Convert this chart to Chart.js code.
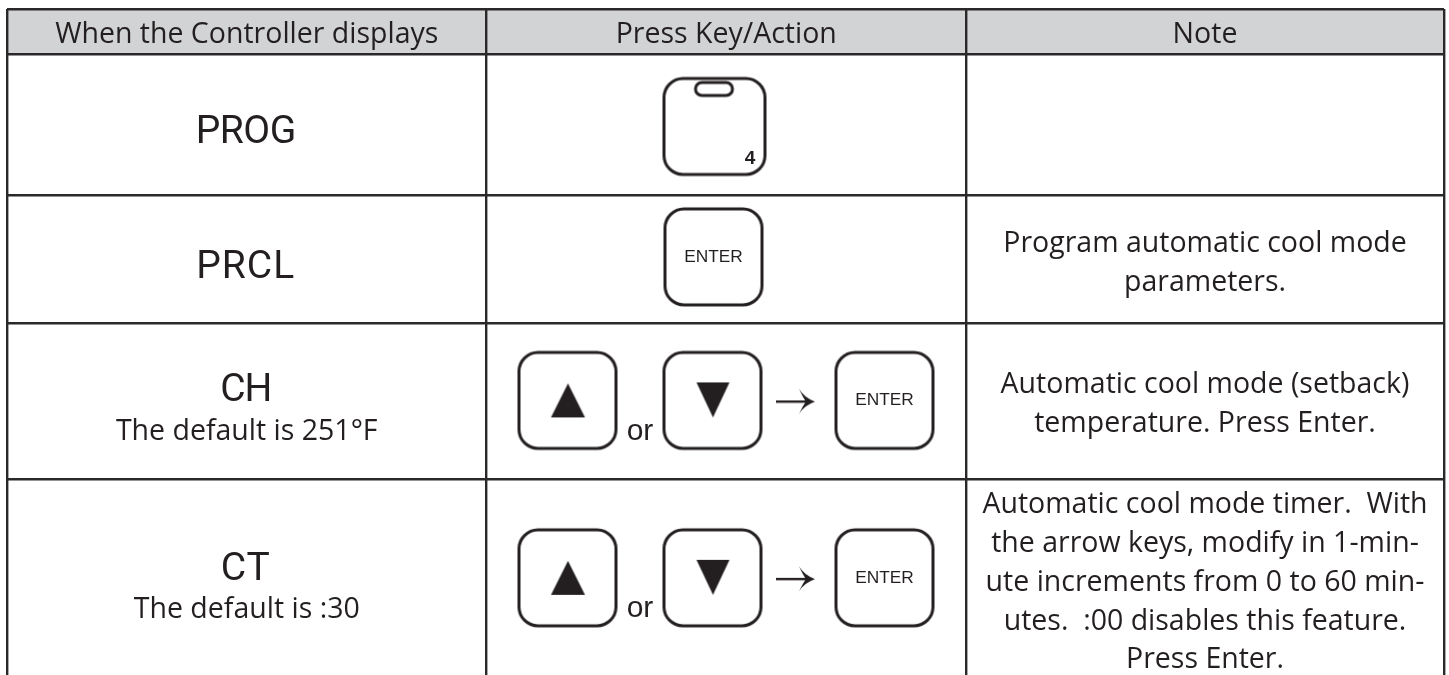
<!DOCTYPE html>
<html>
<head>
<meta charset="utf-8">
<title>Controller keys</title>
<script src="https://cdn.jsdelivr.net/npm/chart.js@4/dist/chart.umd.min.js"></script>
<style>
  html, body { margin: 0; padding: 0; background: #fff; overflow: hidden; }
  canvas { display: block; }
</style>
</head>
<body>
<canvas id="tabla" width="1449" height="675"></canvas>
<script>
  // Table content
  var headers = ['When the Controller displays', 'Press Key/Action', 'Note'];
  var displayCodes = ['PROG', 'PRCL', 'CH', 'CT'];
  var displayDefaults = ['', '', 'The default is 251°F', 'The default is :30'];
  var notes = [
    [],
    ['Program automatic cool mode', 'parameters.'],
    ['Automatic cool mode (setback)', 'temperature. Press Enter.'],
    ['Automatic cool mode timer.  With', 'the arrow keys, modify in 1-min-', 'ute increments from 0 to 60 min-', 'utes.  :00 disables this feature.', 'Press Enter.']
  ];
  var keyRows = [1, 2, 3, 3, 3, 3, 4, 4, 4, 4];
  var keyTypes = ['prog', 'enter', 'up', 'down', 'arrow', 'enter', 'up', 'down', 'arrow', 'enter'];
  var columnEdges = [7, 486.5, 966, 1444];
  var rowEdges = [9, 54, 195.5, 323.5, 479.5, 675];

  // Where each key sits, in table units
  var keyX = { prog: 714.5, single: 713.5, up: 567.5, down: 712.5, arrow: 796, enter: 884.5 };
  var keyY = [0, 126.5, 257, 400.5, 578];

  function keyIcon(type) {
    var c = document.createElement('canvas');
    c.width = 110; c.height = 104;
    var g = c.getContext('2d');
    var w = type === 'prog' ? 101 : 97;
    var h = 96;
    g.strokeStyle = '#231f20';
    g.fillStyle = '#231f20';
    g.lineWidth = 3;
    if (type === 'arrow') {
      g.fillRect(35, 52, 31, 2.4);
      g.beginPath();
      g.moveTo(74, 53.2);
      g.quadraticCurveTo(63, 49, 58, 40.5);
      g.quadraticCurveTo(62, 49, 65, 53.2);
      g.quadraticCurveTo(62, 57, 58, 65.5);
      g.quadraticCurveTo(63, 57, 74, 53.2);
      g.closePath();
      g.fill();
      return c;
    }
    g.beginPath();
    g.roundRect((110 - w) / 2, (104 - h) / 2, w, h, 19);
    g.stroke();
    if (type === 'prog') {
      g.beginPath();
      g.roundRect(36, 8, 37, 13, 6.5);
      g.stroke();
    }
    if (type === 'up') {
      g.beginPath();
      g.moveTo(55.5, 35); g.lineTo(72.5, 69); g.lineTo(38.5, 69);
      g.closePath(); g.fill();
    }
    if (type === 'down') {
      g.beginPath();
      g.moveTo(39, 34); g.lineTo(72, 34); g.lineTo(55.5, 69);
      g.closePath(); g.fill();
    }
    return c;
  }

  var icons = {};
  ['prog', 'enter', 'up', 'down', 'arrow'].forEach(function (t) { icons[t] = keyIcon(t); });

  var keyPoints = keyTypes.map(function (t, i) {
    var col = t === 'prog' ? keyX.prog : (keyRows[i] === 2 ? keyX.single : keyX[t]);
    return { x: col, y: keyY[keyRows[i]] };
  });

  function label(ctx, text, x, y, font, spacing) {
    ctx.font = font;
    ctx.letterSpacing = spacing || '0px';
    ctx.fillText(text, x, y);
  }

  var tablePlugin = {
    id: 'tablePlugin',
    beforeDraw: function (chart) {
      var ctx = chart.ctx, sx = chart.scales.x, sy = chart.scales.y;
      ctx.save();
      ctx.fillStyle = '#ffffff';
      ctx.fillRect(0, 0, chart.width, chart.height);
      ctx.fillStyle = '#d1d3d4';
      ctx.fillRect(sx.getPixelForValue(columnEdges[0]), sy.getPixelForValue(rowEdges[0]),
        sx.getPixelForValue(columnEdges[3]) - sx.getPixelForValue(columnEdges[0]),
        sy.getPixelForValue(rowEdges[1]) - sy.getPixelForValue(rowEdges[0]));
      ctx.restore();
    },
    afterDatasetsDraw: function (chart) {
      var ctx = chart.ctx, sx = chart.scales.x, sy = chart.scales.y;
      var bodyFont = '400 28.5px "Open Sans"';
      var mid = columnEdges.slice(0, 3).map(function (e, i) {
        return sx.getPixelForValue((e + columnEdges[i + 1]) / 2);
      });
      ctx.save();
      ctx.fillStyle = '#231f20';
      ctx.textAlign = 'center';
      ctx.textBaseline = 'alphabetic';

      headers.forEach(function (t, i) {
        label(ctx, t, mid[i], sy.getPixelForValue(43), bodyFont);
      });

      var codeBase = [143, 278, 401, 580];
      var defaultBase = [0, 0, 440, 618];
      var codeSpacing = ['-0.5px', '1px', '-1px', '1px'];
      displayCodes.forEach(function (t, i) {
        label(ctx, t, mid[0] - 1, sy.getPixelForValue(codeBase[i]), '400 39px Roboto', codeSpacing[i]);
      });
      displayDefaults.forEach(function (t, i) {
        if (t) label(ctx, t, mid[0], sy.getPixelForValue(defaultBase[i]), bodyFont);
      });

      var noteBase = [0, 252, 393, 513];
      notes.forEach(function (lines, i) {
        lines.forEach(function (t, j) {
          label(ctx, t, mid[2], sy.getPixelForValue(noteBase[i] + j * 38.9), bodyFont);
        });
      });

      // key captions
      keyPoints.forEach(function (p, i) {
        if (keyTypes[i] === 'enter') {
          label(ctx, 'ENTER', sx.getPixelForValue(p.x), sy.getPixelForValue(p.y + 5), '400 17.3px "Liberation Sans"');
        }
        if (keyTypes[i] === 'prog') {
          label(ctx, '4', sx.getPixelForValue(p.x + 35.5), sy.getPixelForValue(p.y + 38), '700 19px "Liberation Sans"');
        }
        if (keyTypes[i] === 'down') {
          label(ctx, 'or', sx.getPixelForValue(p.x - 72.5), sy.getPixelForValue(p.y + 39.5), '400 30px "Liberation Sans"');
        }
      });
      ctx.restore();
    }
  };

  new Chart(document.getElementById('tabla').getContext('2d'), {
    type: 'scatter',
    data: {
      datasets: [{
        label: 'Keys',
        data: keyPoints,
        pointStyle: keyTypes.map(function (t) { return icons[t]; }),
        pointRadius: 0.2,
        pointHoverRadius: 0.2,
        pointBorderWidth: 0,
        borderWidth: 0
      }]
    },
    options: {
      responsive: false,
      animation: false,
      events: [],
      layout: { padding: { left: 7, right: 5, top: 9, bottom: 0 } },
      plugins: { legend: { display: false }, tooltip: { enabled: false } },
      scales: {
        x: {
          type: 'linear', min: columnEdges[0], max: columnEdges[3],
          afterBuildTicks: function (s) { s.ticks = columnEdges.map(function (v) { return { value: v }; }); },
          ticks: { display: false },
          border: { display: false },
          grid: { color: '#2b2829', lineWidth: 2.4, drawTicks: false }
        },
        y: {
          type: 'linear', reverse: true, min: rowEdges[0], max: rowEdges[5],
          afterBuildTicks: function (s) { s.ticks = rowEdges.slice(0, 5).map(function (v) { return { value: v }; }); },
          ticks: { display: false },
          border: { display: false },
          grid: { color: '#2b2829', lineWidth: 2.4, drawTicks: false }
        }
      }
    },
    plugins: [tablePlugin]
  });
</script>
</body>
</html>
